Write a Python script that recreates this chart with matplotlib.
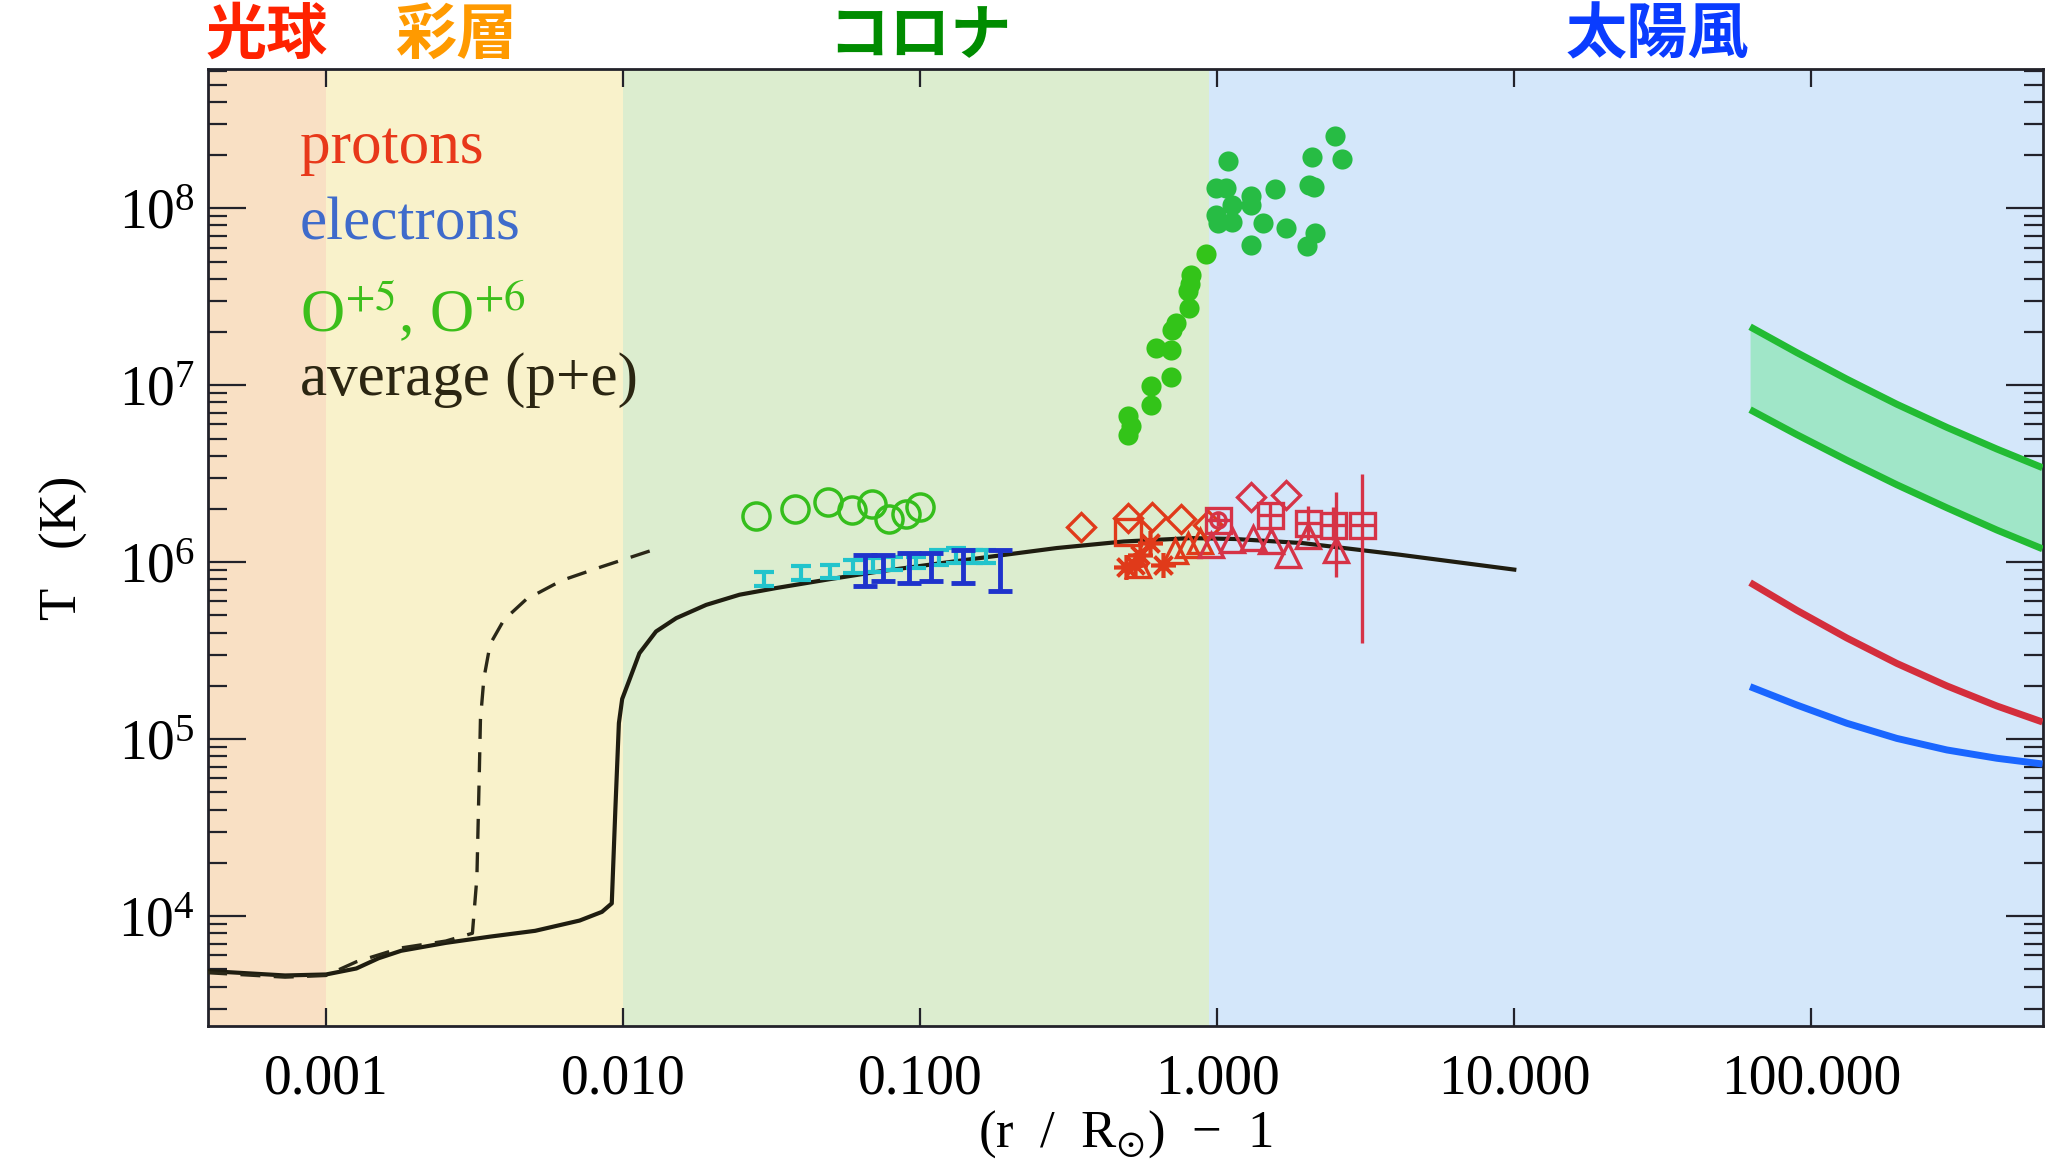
import matplotlib
matplotlib.use("Agg")
import matplotlib.pyplot as plt
import numpy as np
from matplotlib.ticker import LogLocator, NullLocator, NullFormatter
from matplotlib.transforms import blended_transform_factory

plt.rcParams['font.family'] = ['Liberation Serif', 'DejaVu Serif']
plt.rcParams['mathtext.fontset'] = 'stix'

# ------------------------
# Regions along (r/Rsun) - 1
# ------------------------
region_edges = [4.0e-4, 1.0e-3, 1.0e-2, 0.94, 600.0]
region_names = ['光球', '彩層', 'コロナ', '太陽風']

# ------------------------
# Average (p+e) temperature profiles
# ------------------------
avg_r = [3.98e-4, 7.28e-4, 1.0e-3, 1.265e-3, 1.503e-3, 1.79e-3, 2.53e-3, 3.57e-3,
         5.06e-3, 7.14e-3, 8.49e-3, 9.16e-3, 9.42e-3, 9.68e-3, 9.93e-3, 1.050e-2,
         1.135e-2, 1.291e-2, 1.510e-2, 1.905e-2, 2.466e-2, 3.27e-2, 5.01e-2, 7.23e-2,
         0.144, 0.288, 0.484, 0.815, 1.151, 1.94, 4.12, 10.0]
avg_T = [4900, 4620, 4680, 5060, 5780, 6370, 7060, 7660,
         8260, 9440, 1.057e4, 1.18e4, 4.04e4, 1.233e5, 1.687e5, 2.16e5,
         3.06e5, 4.06e5, 4.83e5, 5.74e5, 6.55e5, 7.14e5, 8.04e5, 8.85e5,
         1.033e6, 1.202e6, 1.309e6, 1.368e6, 1.352e6, 1.282e6, 1.102e6, 9.08e5]

avg_alt_r = [3.98e-4, 7.28e-4, 1.0e-3, 1.265e-3, 1.79e-3, 2.53e-3, 3.11e-3, 3.22e-3,
             3.28e-3, 3.31e-3, 3.40e-3, 3.57e-3, 3.97e-3, 4.72e-3, 6.22e-3, 8.49e-3,
             1.259e-2]
avg_alt_T = [4790, 4520, 4620, 5520, 6610, 7230, 8000, 1.652e4,
             6.31e4, 1.291e5, 2.21e5, 3.45e5, 4.72e5, 6.17e5, 7.89e5, 9.44e5,
             1.172e6]

# ------------------------
# Oxygen ions
# ------------------------
o5_r = [0.0281, 0.0378, 0.0490, 0.0590, 0.0686, 0.0787, 0.0897, 0.1002]
o5_T = [1.83e6, 2.0e6, 2.2e6, 1.98e6, 2.13e6, 1.76e6, 1.87e6, 2.05e6]

o6_low_r = [0.501, 0.514, 0.501, 0.600, 0.600, 0.701, 0.620, 0.701, 0.706, 0.725,
            0.801, 0.798, 0.808, 0.818, 0.920]
o6_low_T = [6.67e6, 5.86e6, 5.26e6, 9.87e6, 7.77e6, 1.12e7, 1.63e7, 1.59e7, 2.06e7, 2.25e7,
            2.74e7, 3.40e7, 3.71e7, 4.17e7, 5.48e7]
o6_high_r = [1.087, 0.993, 1.074, 0.993, 1.007, 1.124, 1.124, 1.30, 1.30, 1.43,
             1.30, 1.56, 1.70, 2.08, 2.04, 2.11, 2.13, 2.01, 2.50, 2.64]
o6_high_T = [1.85e8, 1.31e8, 1.31e8, 9.22e7, 8.28e7, 8.35e7, 1.04e8, 1.17e8, 1.04e8, 8.28e7,
             6.18e7, 1.28e8, 7.76e7, 1.95e8, 1.35e8, 1.32e8, 7.27e7, 6.11e7, 2.56e8, 1.90e8]

# ------------------------
# Electrons (two data sets, error bars only)
# ------------------------
e1_r = [0.0299, 0.0398, 0.0496, 0.0594, 0.0693, 0.0810, 0.0970, 0.116, 0.132, 0.151, 0.167]
e1_T = [8.0e5, 8.7e5, 8.9e5, 9.5e5, 9.7e5, 9.9e5, 1.0e6, 1.07e6, 1.09e6, 1.08e6, 1.08e6]
e1_lo = [7.29e5, 7.94e5, 8.13e5, 8.67e5, 8.85e5, 9.06e5, 9.27e5, 9.66e5, 9.89e5, 9.89e5, 9.89e5]
e1_hi = [8.85e5, 9.46e5, 9.66e5, 1.033e6, 1.054e6, 1.076e6, 1.076e6, 1.175e6, 1.202e6, 1.175e6, 1.175e6]

e2_r = [0.0650, 0.0748, 0.0920, 0.109, 0.139, 0.185]
e2_T = [9.0e5, 9.2e5, 9.3e5, 9.4e5, 9.5e5, 9.0e5]
e2_lo = [7.29e5, 7.78e5, 7.62e5, 7.78e5, 7.67e5, 6.89e5]
e2_hi = [1.10e6, 1.10e6, 1.125e6, 1.125e6, 1.175e6, 1.175e6]

# ------------------------
# Protons, coronal measurements
# ------------------------
pc_diam_r = [0.349, 0.501, 0.605, 0.757, 0.931]
pc_diam_T = [1.59e6, 1.77e6, 1.80e6, 1.75e6, 1.63e6]
pc_sq_r = [0.501]
pc_sq_T = [1.49e6]
pc_tri_r = [0.541, 0.72, 0.80, 0.873]
pc_tri_T = [9.7e5, 1.15e6, 1.25e6, 1.31e6]
pc_ast_r = [0.494, 0.528, 0.548, 0.596, 0.656]
pc_ast_T = [9.4e5, 9.7e5, 1.10e6, 1.28e6, 9.7e5]

# ------------------------
# Protons, inner solar wind
# ------------------------
pw_diam_r = [1.30, 1.71]
pw_diam_T = [2.35e6, 2.40e6]
pw_sq_r = [1.007, 1.50, 2.02, 2.45, 3.06]
pw_sq_T = [1.74e6, 1.85e6, 1.66e6, 1.63e6, 1.63e6]
pw_sq_lo = [1.60e6, 1.46e6, 1.34e6, 1.34e6, 3.5e5]
pw_sq_hi = [1.90e6, 2.20e6, 2.07e6, 2.05e6, 3.15e6]
pw_circ_r = [1.007]
pw_circ_T = [1.74e6]
pw_circ_lo = [1.60e6]
pw_circ_hi = [1.90e6]
pw_tri_r = [0.955, 1.12, 1.32, 1.52, 1.73, 2.02, 2.52]
pw_tri_T = [1.25e6, 1.34e6, 1.37e6, 1.31e6, 1.10e6, 1.40e6, 1.17e6]
pw_tri_lo = [1.25e6, 1.34e6, 1.37e6, 1.31e6, 1.10e6, 1.40e6, 8.3e5]
pw_tri_hi = [1.25e6, 1.34e6, 1.37e6, 1.31e6, 1.10e6, 1.40e6, 2.5e6]

# ------------------------
# Solar wind model (far out)
# ------------------------
wind_r = [62.2, 89.3, 131.6, 193.9, 285.8, 421.1, 600.0]
wind_O_hi = [2.14e7, 1.53e7, 1.083e7, 7.81e6, 5.78e6, 4.36e6, 3.42e6]
wind_O_lo = [7.28e6, 5.26e6, 3.77e6, 2.74e6, 2.03e6, 1.52e6, 1.19e6]
wind_Tp = [7.67e5, 5.35e5, 3.73e5, 2.68e5, 2.00e5, 1.54e5, 1.25e5]
wind_Te = [1.98e5, 1.56e5, 1.23e5, 1.01e5, 8.69e4, 7.80e4, 7.24e4]

x_ticks = [1e-3, 1e-2, 1e-1, 1e0, 1e1, 1e2]
x_ticklabels = ['0.001', '0.010', '0.100', '1.000', '10.000', '100.000']
y_ticks = [1e4, 1e5, 1e6, 1e7, 1e8]


def yerr_from(T, lo, hi):
    T = np.asarray(T)
    return [T - np.asarray(lo), np.asarray(hi) - T]


fig = plt.figure(figsize=(20.49, 11.66), dpi=100)
ax = fig.add_axes([0.10142, 0.12024, 0.89541, 0.82033])
ax.set_xscale('log')
ax.set_yscale('log')
ax.set_xlim(region_edges[0], region_edges[-1])
ax.set_ylim(2.4e3, 6.1e8)

# background regions
band_colors = ['#f9e0c4', '#f9f2cb', '#dcedcf', '#d4e7fa']
for i, c in enumerate(band_colors):
    ax.axvspan(region_edges[i], region_edges[i + 1], color=c, lw=0, zorder=0)

# region names above the frame
name_colors = ['#ff2200', '#ff9a00', '#008c00', '#0a3cff']
name_x = [6.3e-4, 2.76e-3, 0.1, 30.4]
trans = blended_transform_factory(ax.transData, fig.transFigure)
for name, xx, c in zip(region_names, name_x, name_colors):
    ax.text(xx, 0.969, name, transform=trans, ha='center', va='center',
            fontsize=44, fontweight='bold', color=c,
            family=['Noto Sans CJK JP', 'DejaVu Sans'], clip_on=False)

# average temperature
ax.plot(avg_r, avg_T, color='#1f1d10', lw=3, zorder=3)
ax.plot(avg_alt_r, avg_alt_T, color='#2a2818', lw=2.4, dashes=(6, 4), zorder=3)

# oxygen
ax.plot(o5_r, o5_T, 'o', ms=19.5, mfc='none', mec='#35be1c', mew=2.5, zorder=4)
ax.plot(o6_low_r, o6_low_T, 'o', ms=14.5, color='#33c419', mew=0, zorder=4)
ax.plot(o6_high_r, o6_high_T, 'o', ms=14.5, color='#27bc44', mew=0, zorder=4)

# electrons
ax.errorbar(e1_r, e1_T, yerr=yerr_from(e1_T, e1_lo, e1_hi), fmt='none',
            ecolor='#22c4cc', elinewidth=3, capsize=7.5, capthick=3, zorder=4)
ax.errorbar(e2_r, e2_T, yerr=yerr_from(e2_T, e2_lo, e2_hi), fmt='none',
            ecolor='#1f33cc', elinewidth=3.5, capsize=8.5, capthick=3.5, zorder=4)

# protons in the corona
pc = '#e03a1a'
ax.plot(pc_diam_r, pc_diam_T, 'D', ms=14, mfc='none', mec=pc, mew=2.4, zorder=5)
ax.plot(pc_sq_r, pc_sq_T, 's', ms=19, mfc='none', mec=pc, mew=2.4, zorder=5)
ax.plot(pc_tri_r, pc_tri_T, '^', ms=17, mfc='none', mec=pc, mew=2.4, zorder=5)
ax.plot(pc_ast_r, pc_ast_T, marker=(8, 2, 0), ls='none', ms=18, mec=pc, mew=2.6, zorder=5)

# protons in the inner wind
pw = '#d63347'
ax.plot(pw_diam_r, pw_diam_T, 'D', ms=14, mfc='none', mec=pw, mew=2.4, zorder=5)
ax.errorbar(pw_sq_r, pw_sq_T, yerr=yerr_from(pw_sq_T, pw_sq_lo, pw_sq_hi),
            xerr=[np.array(pw_sq_r) * 0.09, np.array(pw_sq_r) * 0.1],
            fmt='s', ms=18, mfc='none', mec=pw, mew=2.4, ecolor=pw, elinewidth=2.4,
            capsize=0, zorder=5)
ax.errorbar(pw_circ_r, pw_circ_T, yerr=yerr_from(pw_circ_T, pw_circ_lo, pw_circ_hi),
            fmt='o', ms=11, mfc='none', mec=pw, mew=2.4, ecolor=pw, elinewidth=2.4,
            capsize=0, zorder=5)
ax.errorbar(pw_tri_r, pw_tri_T, yerr=yerr_from(pw_tri_T, pw_tri_lo, pw_tri_hi),
            fmt='^', ms=17, mfc='none', mec=pw, mew=2.4, ecolor=pw, elinewidth=2.4,
            capsize=0, zorder=5)

# outer solar wind model
ax.fill_between(wind_r, wind_O_lo, wind_O_hi, color='#a0e6c8', lw=0, zorder=2)
for series, c in [(wind_O_hi, '#22bb33'), (wind_O_lo, '#22bb33'),
                  (wind_Tp, '#d42e3c'), (wind_Te, '#1a66ff')]:
    ax.plot(wind_r, series, color=c, lw=5, zorder=3, solid_capstyle='butt',
            solid_joinstyle='round')

# legend as coloured text
leg_kw = dict(transform=ax.transAxes, fontsize=44, va='baseline', ha='left', zorder=6)
ax.text(0.0503, 0.9024, 'protons', color='#e8381a', **leg_kw)
ax.text(0.0503, 0.8223, 'electrons', color='#3f6bcb', **leg_kw)
ax.text(0.0503, 0.7257, 'O$^{+5}$, O$^{+6}$', color='#3cbf1b', **leg_kw)
ax.text(0.0503, 0.6595, 'average (p+e)', color='#2b2612', **leg_kw)

# axes and ticks
ax.set_xticks(x_ticks)
ax.set_xticklabels(x_ticklabels)
ax.xaxis.set_minor_locator(NullLocator())
ax.set_yticks(y_ticks)
ax.set_yticklabels([r'$\mathregular{10^{%d}}$' % int(np.log10(v)) for v in y_ticks])
ax.yaxis.set_minor_locator(LogLocator(base=10, subs=np.arange(2, 10)))
ax.yaxis.set_minor_formatter(NullFormatter())

frame_c = '#22222a'
ax.tick_params(axis='x', which='major', direction='in', top=True, length=13,
               width=1.6, color=frame_c, labelsize=40, pad=20)
ax.tick_params(axis='y', which='major', direction='in', right=True, length=27,
               width=1.6, color=frame_c, labelsize=40, pad=9)
ax.tick_params(axis='y', which='minor', direction='in', right=True, length=14,
               width=1.6, color=frame_c)
for sp in ax.spines.values():
    sp.set_linewidth(2)
    sp.set_color(frame_c)

ax.set_xlabel(r'(r  /  R$_{\odot}$)  −  1', fontsize=38, labelpad=2)
ax.set_ylabel('T   (K)', fontsize=38, labelpad=22)

fig.savefig('out.png', dpi=100)
